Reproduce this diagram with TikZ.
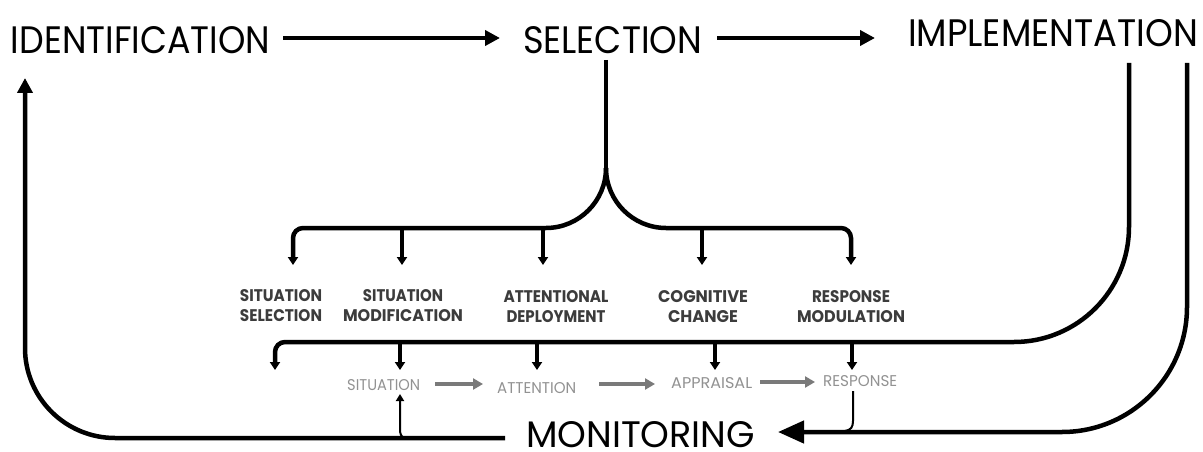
\documentclass[tikz,border=0pt]{standalone}
\usepackage{graphicx}
\usepackage{fontspec}
\setmainfont{Poppins}
\usetikzlibrary{arrows.meta}
\newcommand{\fitt}[3]{\resizebox{#1pt}{#2pt}{#3}}
\definecolor{labgray}{HTML}{3C3C3C}
\definecolor{lightlab}{HTML}{929292}
\definecolor{arrgray}{HTML}{7A7A7A}
\tikzset{
  big/.style={line width=4.5pt, draw=black},
  mid/.style={line width=3.5pt, draw=black},
  thin/.style={line width=2pt, draw=black},
  tsmall/.style={-{Triangle[width=10pt,length=8pt]}},
  ttiny/.style={-{Triangle[width=8pt,length=7pt]}},
  ttop/.style={-{Triangle[width=15pt,length=15pt]}},
  tbig/.style={-{Triangle[width=22pt,length=26pt]}},
  grayarr/.style={line width=4pt, draw=arrgray, -{Triangle[width=11pt,length=10pt]}},
  txt/.style={inner sep=0pt, outer sep=0pt, anchor=base west},
  blab/.style={inner sep=0pt, anchor=north, align=center, text=labgray, font=\bfseries\fontsize{12}{20}\selectfont},
  glab/.style={inner sep=0pt, anchor=base west, text=lightlab},
}
\begin{document}
\begin{tikzpicture}[x=1pt,y=-1pt]
\useasboundingbox (0,0) rectangle (1203,452);
\fill[white] (0,0) rectangle (1203,452);

% main labels
\node[txt] (ident) at (11,53) {\fitt{259}{27}{IDENTIFICATION}};
\node[txt] (sel) at (523,53) {\fitt{179}{27}{SELECTION}};
\node[txt] (impl) at (908,46) {\fitt{290}{27}{IMPLEMENTATION}};
\node[txt] (mon) at (526,447) {\fitt{229}{26}{MONITORING}};

% strategy labels
\node[blab] (ss) at (281,289) {\fitt{82}{12}{SITUATION}\\\fitt{82}{12}{SELECTION}};
\node[blab] (sm) at (403,289) {\fitt{80}{12}{SITUATION}\\\fitt{120}{12}{MODIFICATION}};
\node[blab] (ad) at (556,290) {\fitt{105}{12}{ATTENTIONAL}\\\fitt{99}{12}{DEPLOYMENT}};
\node[blab] (cc) at (703,290) {\fitt{90}{12}{COGNITIVE}\\\fitt{70}{12}{CHANGE}};
\node[blab] (rm) at (851,290) {\fitt{78}{12}{RESPONSE}\\\fitt{108}{12}{MODULATION}};

% process labels
\node[glab] (sit) at (347,390.5) {\fitt{73}{11}{SITUATION}};
\node[glab] (att) at (497,393.5) {\fitt{79}{11}{ATTENTION}};
\node[glab] (app) at (671,388.5) {\fitt{81}{11}{APPRAISAL}};
\node[glab] (res) at (823,386.5) {\fitt{74}{11}{RESPONSE}};

% coordinates
\coordinate (idE) at (283,38);
\coordinate (selW) at (500,38);
\coordinate (selE) at (717,38);
\coordinate (implW) at (875,38);
\coordinate (trunkTop) at (606,60);
\coordinate (split) at (606,168);
\coordinate (r1L) at (293,265);
\coordinate (r1R) at (851,265);

% top arrows
\draw[big,ttop] (idE) -- (selW);
\draw[big,ttop] (selE) -- (implW);

% selection tree
\draw[big] (trunkTop) -- (split);
\draw[big,tsmall] (split) .. controls (606,201) and (579,228) .. (546,228) -- (303,228)
   .. controls (297.5,228) and (293,232.5) .. (293,238) -- (r1L);
\draw[big,tsmall] (split) .. controls (606,201) and (633,228) .. (666,228) -- (841,228)
   .. controls (846.5,228) and (851,232.5) .. (851,238) -- (r1R);
\draw[mid,tsmall] (402,227) -- (402,265);
\draw[mid,tsmall] (543,227) -- (543,265);
\draw[mid,tsmall] (702,227) -- (702,265);

% implementation inner path
\draw[big,tsmall] (1129,63) -- (1129,227) .. controls (1129,290.5) and (1077.5,342) .. (1014,342)
   -- (285,342) .. controls (279.5,342) and (275,346.5) .. (275,352) -- (275,370);
\draw[mid,tsmall] (400,341) -- (400,370);
\draw[mid,tsmall] (537,341) -- (537,370);
\draw[mid,tsmall] (715,341) -- (715,370);
\draw[mid,tsmall] (852,341) -- (852,370);

% process arrows
\draw[grayarr] (435,384) -- (483,384);
\draw[grayarr] (599,384) -- (655,384);
\draw[grayarr] (760,382) -- (815,382);

% implementation outer path to monitoring
\draw[big,tbig] (1187,63) -- (1187,307) .. controls (1187,376) and (1131,432) .. (1062,432) -- (778,432);

% monitoring to identification
\draw[big,ttop] (505,438) -- (115,438) .. controls (65.3,438) and (25,397.7) .. (25,348) -- (25,78);

% thin links
\draw[thin,ttiny] (405,438) .. controls (401,437) and (400,434) .. (400,429) -- (400,394);
\draw[thin] (853,391) -- (853,421) .. controls (853,427) and (851,430) .. (845,431);
\end{tikzpicture}
\end{document}
